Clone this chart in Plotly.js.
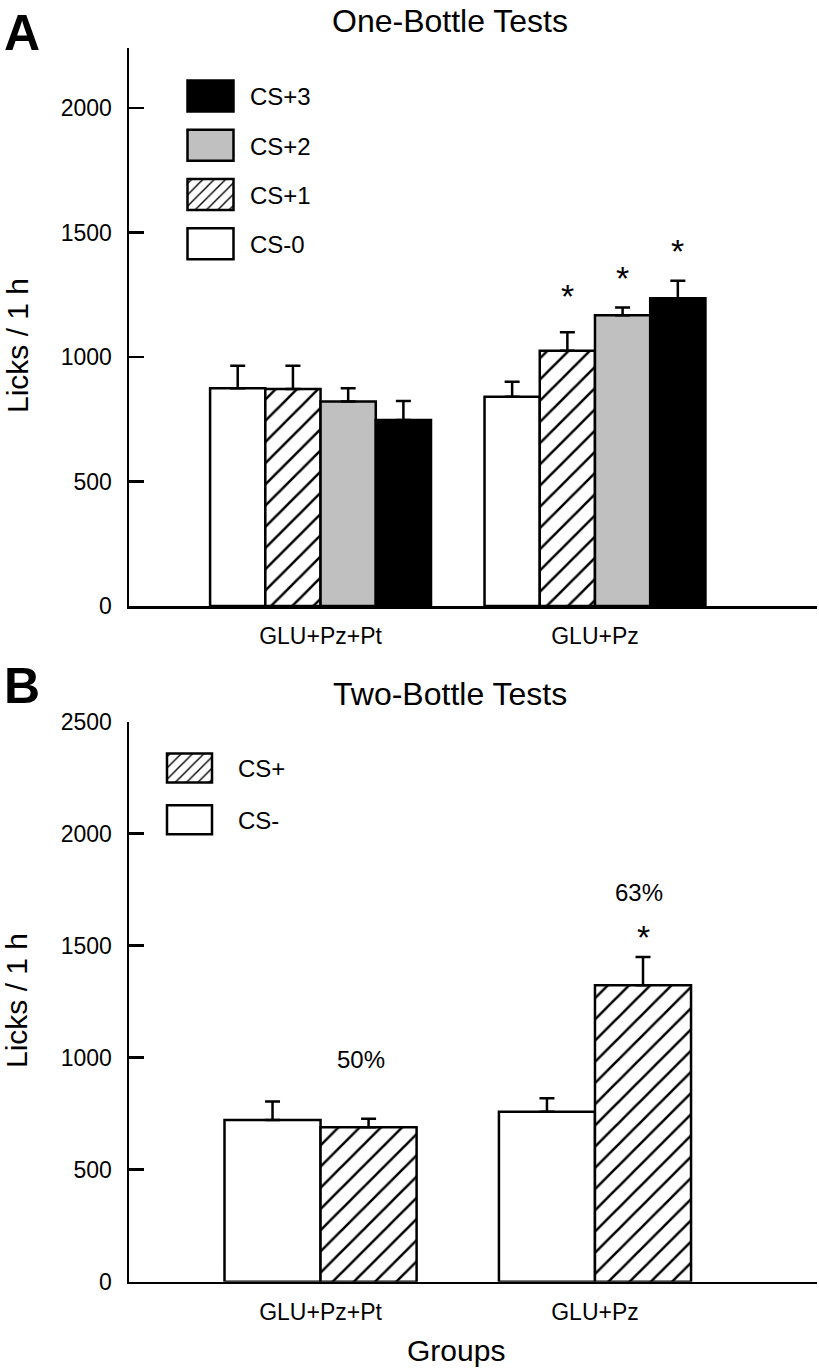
<!DOCTYPE html>
<html><head><meta charset="utf-8">
<script src="https://cdn.plot.ly/plotly-3.0.1.min.js"></script>
<style>html,body{margin:0;padding:0;background:#fff}</style>
</head><body><div id="chart" style="width:819px;height:1372px"></div>
<script>
// ---------- data ----------
const groups = ['GLU+Pz+Pt', 'GLU+Pz'];

// Panel A: One-Bottle Tests (licks / 1 h, mean and SEM)
const seriesA = ['CS-0', 'CS+1', 'CS+2', 'CS+3'];
const cs0 = [875, 841];
const cs0Err = [90, 60];
const cs1 = [872, 1026];
const cs1Err = [93, 74];
const cs2 = [822, 1168];
const cs2Err = [53, 31];
const cs3 = [747, 1237];
const cs3Err = [77, 70];

// Panel B: Two-Bottle Tests
const seriesB = ['CS-', 'CS+'];
const csMinus = [722, 759];
const csMinusErr = [83, 60];
const csPlus = [690, 1323];
const csPlusErr = [38, 127];
const percentCSplus = ['50%', '63%'];

// ---------- styling ----------
const FONT = 'Liberation Sans, Arial, Helvetica, sans-serif';
const hatch = {shape: '/', size: 15, solidity: 0.17, fgcolor: '#000', fgopacity: 1, bgcolor: '#fff', fillmode: 'replace'};
const BARGAP = 0.195;

function errY(arr) {
  return {type: 'data', symmetric: false, array: arr, arrayminus: arr.map(() => 0),
          color: '#000', thickness: 2.5, width: 7.5};
}
function bar(name, rank, y, err, color, pattern, xa, ya, legend, extra) {
  const t = {
    type: 'bar', name: name, x: groups, y: y, xaxis: xa, yaxis: ya, legend: legend,
    legendgroup: legend + name, legendrank: rank,
    marker: {color: color, line: {color: '#000', width: 2.5}},
    error_y: errY(err), hoverinfo: 'skip'
  };
  if (pattern) t.marker.pattern = pattern;
  return Object.assign(t, extra || {});
}

// legend lists the series top-down in reverse order (CS+3 ... CS-0, CS+ / CS-)
const traces = [
  bar(seriesA[0], 4, cs0, cs0Err, '#ffffff', null, 'x', 'y', 'legend'),
  bar(seriesA[1], 3, cs1, cs1Err, '#ffffff', hatch, 'x', 'y', 'legend'),
  bar(seriesA[2], 2, cs2, cs2Err, '#c0c0c0', null, 'x', 'y', 'legend'),
  bar(seriesA[3], 1, cs3, cs3Err, '#000000', null, 'x', 'y', 'legend'),
];
const WB = 0.35;
traces.push(bar(seriesB[0], 2, csMinus, csMinusErr, '#ffffff', null, 'x2', 'y2', 'legend2', {width: WB, offset: -WB}));
traces.push(bar(seriesB[1], 1, csPlus, csPlusErr, '#ffffff', hatch, 'x2', 'y2', 'legend2', {width: WB, offset: 0}));

// ---------- annotations ----------
const H = 1372, L = 129, PW = 688;
const px = x => (x - L) / PW;
const py = y => 1 - y / H;
const ann = [];
function txt(text, x, y, size, opts) {
  ann.push(Object.assign({text: text, x: x, y: y, xref: 'paper', yref: 'paper', showarrow: false,
    xanchor: 'center', yanchor: 'middle', font: {family: FONT, size: size, color: '#000'}}, opts || {}));
}
txt('<b>A</b>', px(22), py(33), 50);
txt('<b>B</b>', px(22), py(686), 50);
txt('One-Bottle Tests', px(450), py(21), 32);
txt('Two-Bottle Tests', px(450), py(694), 32);
txt('Licks / 1 h', px(17), py(345), 30, {textangle: -90});
txt('Licks / 1 h', px(17), py(1000), 30, {textangle: -90});
txt('Groups', px(456), py(1350), 30);

// significance stars, panel A (group GLU+Pz, CS+1..CS+3)
const slotA = (1 - BARGAP) / seriesA.length;
const starYA = [null, 1277, 1350, 1460];
for (let k = 1; k < seriesA.length; k++) {
  ann.push({text: '*', x: 1 + (k - 1.5) * slotA, y: starYA[k], xref: 'x', yref: 'y', showarrow: false,
    yshift: -8, font: {family: FONT, size: 34, color: '#000'}});
}
// panel B: % CS+ and star
ann.push({text: percentCSplus[0], x: 0 + WB / 2, y: 990, xref: 'x2', yref: 'y2', showarrow: false,
  xshift: -8, font: {family: FONT, size: 24, color: '#000'}});
ann.push({text: percentCSplus[1], x: 1 + WB / 2, y: 1738, xref: 'x2', yref: 'y2', showarrow: false,
  xshift: -4, font: {family: FONT, size: 24, color: '#000'}});
ann.push({text: '*', x: 1 + WB / 2, y: 1573, xref: 'x2', yref: 'y2', showarrow: false,
  yshift: -8, font: {family: FONT, size: 34, color: '#000'}});

// ---------- axes ----------
const xr = [-0.698, 1.809];
function xAxis(anchor) {
  return {anchor: anchor, domain: [0, 1], range: xr, showline: true, linewidth: 2.5, linecolor: '#000',
    ticks: '', showgrid: false, zeroline: false, ticklabelstandoff: 8,
    tickfont: {family: FONT, size: 23, color: '#000'}, fixedrange: true};
}
function yAxis(anchor, domain, range) {
  return {anchor: anchor, domain: domain, range: range, dtick: 500, tick0: 0,
    showline: true, linewidth: 2.5, linecolor: '#000', ticks: 'inside', ticklen: 15, tickwidth: 2.5,
    tickcolor: '#000', showgrid: false, zeroline: false, ticklabelstandoff: 10,
    tickfont: {family: FONT, size: 23, color: '#000'}, fixedrange: true};
}

const layout = {
  width: 819, height: 1372,
  margin: {l: L, r: 819 - L - PW, t: 0, b: 0},
  paper_bgcolor: '#fff', plot_bgcolor: 'rgba(0,0,0,0)',
  font: {family: FONT, color: '#000'},
  barmode: 'group', bargap: BARGAP, bargroupgap: 0,
  showlegend: true,
  xaxis: xAxis('y'),
  yaxis: yAxis('x', [py(606), py(48)], [0, 2242]),
  xaxis2: xAxis('y2'),
  yaxis2: yAxis('x2', [py(1281.7), py(721.7)], [0, 2500]),
  legend: {x: px(171), y: py(74), xanchor: 'left', yanchor: 'top', traceorder: 'grouped',
    itemwidth: 69, tracegroupgap: 15, bgcolor: 'rgba(0,0,0,0)', borderwidth: 0,
    font: {family: FONT, size: 24, color: '#000'}},
  legend2: {x: px(141), y: py(746), xanchor: 'left', yanchor: 'top', traceorder: 'grouped',
    itemwidth: 87, tracegroupgap: 17.4, bgcolor: 'rgba(0,0,0,0)', borderwidth: 0,
    font: {family: FONT, size: 24, color: '#000'}},
  annotations: ann
};

function enlargeSwatches() {
  const spec = [['legend', 46, 31], ['legend2', 45, 29]];
  spec.forEach(([cls, w, h]) => {
    document.querySelectorAll('g.' + cls + ' .legendpoints path').forEach(p => {
      p.setAttribute('d', `M${w/2},${h/2}H${-w/2}V${-h/2}H${w/2}Z`);
    });
  });
}

Plotly.newPlot('chart', traces, layout, {staticPlot: true, displayModeBar: false}).then(enlargeSwatches);
</script>
</body></html>
